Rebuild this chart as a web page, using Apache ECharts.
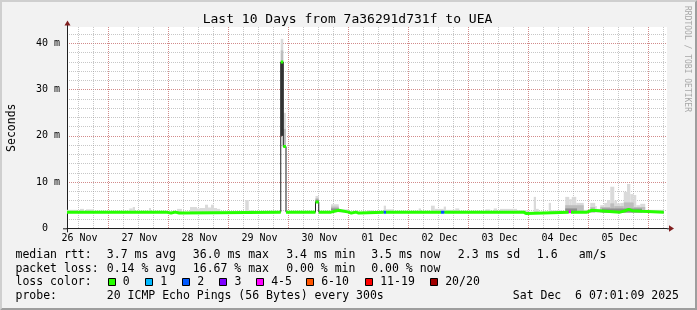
<!DOCTYPE html>
<html><head><meta charset="utf-8">
<script src="https://cdn.jsdelivr.net/npm/echarts@6/dist/echarts.min.js"></script>
<style>html,body{margin:0;padding:0;background:#f2f2f2}#c{width:697px;height:310px}</style>
</head><body><div id="c"></div>
<script>
// ---------- DATA (time in hours since start of the 10-day window) ----------
const dayLabels = ['26 Nov','27 Nov','28 Nov','29 Nov','30 Nov','01 Dec','02 Dec','03 Dec','04 Dec','05 Dec'];
const yTickUnit = ' m';

// median RTT (ms): segment boundaries, value per segment, lost pings per segment
const medT = [0, 39.6, 41.6, 43.3, 44.9, 85.5, 86.5, 87.6, 99.4, 100.7, 105.6, 108.7, 112.7, 113.7, 115.6, 116.7,
              126.7, 127.6, 149.6, 150.9, 182.7, 183.6, 200.7, 201.6, 208, 210, 221.2, 223.3, 224.7, 226, 230, 238.7];
const medV = [3.5, 3.3, 3.5, 3.3, 3.5, 36.0, 17.7, 3.5, 5.7, 3.5, 3.9, 3.5, 3.3, 3.5, 3.3, 3.5,
              3.5, 3.5, 3.5, 3.5, 3.2, 3.5, 3.6, 3.5, 3.9, 3.5, 3.8, 4.1, 3.8, 3.7, 3.5];
const medLoss = [0,0,0,0,0,0,0,0,0,0,0,0,0,0,0,0, 2,0,2,0,0,0,4,0,0,0,0,0,0,0,0];

// smoke (ping spread): [start, end, low, high]
const smokeLight = [
 [0,4,3.4,4.0],[5.2,6.8,3.4,4.2],[7.6,10.8,3.4,4.1],[24.9,26.3,3.4,4.3],[26.3,27.2,3.4,4.6],
 [32.8,33.6,3.4,4.4],[44,46,3.4,4.2],[49.2,52,3.4,4.6],[52,53.2,3.4,4.3],[53.2,55.2,3.4,4.4],
 [55.2,56.4,3.4,5.1],[56.4,57.6,3.4,4.5],[57.6,58.8,3.4,5.1],[58.8,60,3.4,4.4],[60,61.3,3.4,4.2],
 [71.3,72.7,3.4,6.1],[72.7,74.7,3.4,3.9],[81.2,83.2,3.4,3.8],
 [85.5,86.5,36,41],[86.5,87.6,17.7,25],[99.4,100.7,5.7,7.0],[105.6,108.7,3.9,5.2],[108.7,112.7,3.4,4.1],
 [120,122.7,3.4,3.9],[126.7,127.6,3.4,4.9],[127.6,130.7,3.4,4.1],[140.7,141.6,3.4,4.3],[145.6,147.1,3.4,4.9],
 [147.1,150.7,3.4,4.2],[150.7,151.6,3.4,4.7],[151.6,155.3,3.4,4.0],[155.3,156.9,3.4,4.3],[167.3,169.3,3.4,4.1],
 [170.7,172,3.4,4.3],[173.2,180,3.4,4.2],[180,184.6,3.4,3.9],[186.7,187.6,3.4,6.8],[187.6,188.7,3.4,4.2],
 [192.7,193.6,3.4,5.5],[193.6,198.1,3.4,3.9],[199.3,200.9,3.4,6.8],[200.9,201.9,3.4,6.3],[201.9,203.7,3.4,6.8],
 [203.7,206.7,3.4,5.5],[206.7,209.3,3.4,4.0],[209.3,211.3,3.4,5.5],[211.3,211.9,3.4,4.8],[211.9,213.3,3.4,4.2],
 [213.3,214.9,3.4,5.0],[214.9,216,3.4,5.5],[216,217.3,3.4,6.1],[217.3,218.9,3.4,9.0],[218.9,220,3.4,6.0],
 [220,221.3,3.4,5.4],[221.3,222.7,3.4,5.5],[222.7,224,3.4,7.9],[224,225.3,3.4,9.6],[225.3,226.7,3.4,7.4],
 [226.7,227.7,3.4,7.2],[227.7,229.3,3.4,5.0],[229.3,231.3,3.4,5.3],[231.3,238.7,3.4,4.0]
];
const smokeMid = [
 [85.5,86.5,36,38.5],[86.5,87.6,17.7,21.5],[99.4,100.7,5.7,6.5],[105.6,108.7,3.9,4.7],
 [199.3,206.7,3.4,5.0],[209.3,211.3,3.4,4.6],[213.3,217.3,3.4,4.6],[217.3,218.9,3.4,5.4],
 [218.9,222.7,3.4,4.8],[222.7,226.7,3.4,5.6],[226.7,231.3,3.4,4.6]
];
const smokeDark = [
 [99.4,100.7,5.7,6.2],[105.6,108.7,3.9,4.3],[199.3,204,3.4,4.3],[214,230,3.4,4.3]
];
const smokeDeep = [ [85.5,86.5,20,36] ];

// loss colour classes
const lossLabels = ['0','1','2','3','4-5','6-10','11-19','20/20'];
const lossMax    = [0, 1, 2, 3, 5, 10, 19, 20];
const lossColors = ['#26ff00','#00b8ff','#0059ff','#7e00ff','#ff00ff','#ff5500','#ff0000','#a10000'];

// legend text
const legendRtt  = [['median rtt:'],['3.7 ms avg'],['36.0 ms max'],['3.4 ms min'],['3.5 ms now'],['2.3 ms sd'],['1.6'],['am/s']];
const legendLoss = [['packet loss:'],['0.14 % avg'],['16.67 % max'],['0.00 % min'],['0.00 % now']];
const legendProbe = [['probe:'],['20 ICMP Echo Pings (56 Bytes) every 300s'],['Sat Dec  6 07:01:09 2025']];
const titleText = 'Last 10 Days from 7a36291d731f to UEA';
const unitText = 'Seconds';
const watermark = 'RRDTOOL / TOBI OETIKER';

// ---------- LAYOUT ----------
const W = 697, H = 310;
const L = 67, R = 30, T = 27, B = 81.7;
const YMAX = 43.57;
const PXH = 600 / 240;
const MONO = 'DejaVu Sans Mono';
const rttX = [15.5, 106.8, 192.8, 286.2, 371.2, 457.8, 536.8, 578.8];
const lossX = [15.5, 106.8, 192.8, 286.2, 371.2];
const probeX = [15.5, 106.8, 512.8];
const boxX = [108.5, 145.5, 182.5, 219.5, 256.5, 306.5, 365.5, 430.5];
const boxTextX = [122.8, 160.2, 197.2, 234.5, 271.2, 321.2, 380.2, 445.2];
const lineY = [255.3, 268.8, 282.4, 296];

// ---------- BUILD ----------
function lossClass(n){ for (let k=0;k<lossMax.length;k++) if (n<=lossMax[k]) return k; return lossMax.length-1; }
const JUMP = 1.5;
function buildLine(pred, breakOnJump){
  const out = [];
  for (let i=0;i<medV.length;i++){
    if (!pred(i)) continue;
    const cont = i>0 && pred(i-1) && (!breakOnJump || Math.abs(medV[i]-medV[i-1]) < JUMP);
    if (!cont && out.length) out.push([medT[i], null]);
    out.push([medT[i], medV[i]], [medT[i+1], medV[i]]);
  }
  return out;
}
function smokeSeries(data, color){
  return {
    type:'custom', xAxisIndex:0, yAxisIndex:0, data, silent:true, animation:false, z:2,
    encode:{x:[0,1], y:[2,3]},
    renderItem(params, api){
      const a = api.coord([api.value(0), api.value(3)]);
      const b = api.coord([api.value(1), api.value(2)]);
      return {type:'rect', shape:{x:a[0], y:a[1], width:b[0]-a[0], height:b[1]-a[1]}, style:{fill:color}};
    }
  };
}
const series = [
  smokeSeries(smokeLight, '#dadada'),
  smokeSeries(smokeMid, '#bdbdbd'),
  smokeSeries(smokeDark, '#8e8e8e'),
  smokeSeries(smokeDeep, '#383838'),
  {type:'line', xAxisIndex:0, yAxisIndex:0, data: buildLine(()=>true, false), showSymbol:false, symbol:'none',
   lineStyle:{color:'#202020', width:1}, animation:false, z:3, silent:true}
];
lossColors.forEach((col,k)=>{
  const d = buildLine(i => lossClass(medLoss[i])===k, true);
  if (d.length) series.push({type:'line', xAxisIndex:0, yAxisIndex:0, data:d, showSymbol:false, symbol:'none',
    lineStyle:{color:col, width:3, cap:'butt'}, animation:false, z:4, silent:true});
});

const minorStyle = {color:'rgba(143,143,143,0.5)', width:1, type:[1,1]};
const majorStyle = {color:'rgba(222,79,79,0.5)', width:1, type:[1,1]};
const grids = [
  {left:L, right:R, top:T, bottom:B, show:true, backgroundColor:'#ffffff', borderWidth:0, z:0, outerBoundsMode:'none'},
  {left:L-1.5*PXH, right:R, top:T, bottom:B, show:false, outerBoundsMode:'none'},
  {left:L-7.5*PXH, right:R, top:T, bottom:B, show:false, outerBoundsMode:'none'},
  {left:L-19*PXH, right:R, top:T, bottom:B, show:false, outerBoundsMode:'none'}
];
const noLine = {show:false}, noTick = {show:false};
const xAxes = [
  {type:'value', gridIndex:0, min:0, max:240, z:1, axisLine:{show:true, onZero:false, lineStyle:{color:'#202020', width:1}},
   axisTick:noTick, axisLabel:{show:false}, splitLine:{show:false}},
  {type:'value', gridIndex:1, min:-1.5, max:240, interval:6, z:1, axisLine:noLine, axisTick:noTick, axisLabel:{show:false},
   splitLine:{show:true, showMinLine:false, showMaxLine:false, lineStyle:minorStyle}},
  {type:'value', gridIndex:2, min:-7.5, max:240, interval:24, z:1, axisLine:noLine, axisTick:noTick, axisLabel:{show:false},
   splitLine:{show:true, showMinLine:false, showMaxLine:false, lineStyle:majorStyle}},
  {type:'value', gridIndex:3, min:-19, max:240, interval:24, z:1, axisLine:noLine, axisTick:noTick, splitLine:{show:false},
   axisLabel:{show:true, showMinLabel:false, showMaxLabel:false, margin:5, color:'#000', fontFamily:MONO, fontSize:10,
     hideOverlap:false,
     formatter:v=>{ const i=Math.round((v-5)/24); return dayLabels[i]||''; }}}
];
const yAxes = [
  {type:'value', gridIndex:0, min:0, max:YMAX, interval:2, position:'left', z:1,
   axisLine:{show:true, onZero:false, lineStyle:{color:'#202020', width:1}}, axisTick:noTick, axisLabel:{show:false},
   splitLine:{show:true, showMinLine:false, showMaxLine:false, lineStyle:minorStyle}},
  {type:'value', gridIndex:0, min:0, max:YMAX, interval:10, position:'left', z:1, axisLine:noLine, axisTick:noTick,
   axisLabel:{show:true, showMinLabel:true, showMaxLabel:false, margin:7, color:'#000', fontFamily:MONO, fontSize:10,
     formatter:v=> v===0 ? '0  ' : (v + yTickUnit)},
   splitLine:{show:true, showMinLine:false, showMaxLine:false, lineStyle:majorStyle}},
  {type:'value', gridIndex:1, show:false, min:0, max:1},
  {type:'value', gridIndex:2, show:false, min:0, max:1},
  {type:'value', gridIndex:3, show:false, min:0, max:1}
];

// graphic: borders, arrows, titles, legend
const g = [];
g.push({type:'polygon', shape:{points:[[0,H],[2,H-2],[2,2],[W-2,2],[W,0],[0,0]]}, style:{fill:'#cfcfcf'}, z:20, silent:true});
g.push({type:'polygon', shape:{points:[[2,H-2],[W-2,H-2],[W-2,2],[W,0],[W,H],[0,H]]}, style:{fill:'#9e9e9e'}, z:20, silent:true});
const xo = L, yo = H-B, xe = W-R, yt = T;
g.push({type:'line', shape:{x1:xo-4, y1:yo+0.5, x2:xo, y2:yo+0.5}, style:{stroke:'#202020', lineWidth:1}, z:20, silent:true});
g.push({type:'line', shape:{x1:xe, y1:yo+0.5, x2:xe+4, y2:yo+0.5}, style:{stroke:'#202020', lineWidth:1}, z:20, silent:true});
g.push({type:'line', shape:{x1:xo+0.5, y1:yo, x2:xo+0.5, y2:yo+4}, style:{stroke:'#202020', lineWidth:1}, z:20, silent:true});
g.push({type:'line', shape:{x1:xo+0.5, y1:yt-4, x2:xo+0.5, y2:yt}, style:{stroke:'#202020', lineWidth:1}, z:20, silent:true});
g.push({type:'polygon', shape:{points:[[xe+2,yo-3],[xe+2,yo+3.5],[xe+7,yo+0.3]]}, style:{fill:'#801f1f'}, z:21, silent:true});
g.push({type:'polygon', shape:{points:[[xo-2.5,yt-1.5],[xo+3.5,yt-1.5],[xo+0.5,yt-6.5]]}, style:{fill:'#801f1f'}, z:21, silent:true});

const txt = (s, x, y, size, extra) => Object.assign({type:'text', x, y, silent:true, z:22,
  style:{text:s, fill:'#000', font:size+'px "'+MONO+'"', textAlign:'left', textVerticalAlign:'middle'}}, extra||{});
g.push(txt(titleText, 347.5, 20.1, 13, {style:{text:titleText, fill:'#000', font:'13px "'+MONO+'"', textAlign:'center', textVerticalAlign:'middle'}}));
g.push({type:'text', x:11.6, y:127.7, rotation:Math.PI/2, silent:true, z:22,
  style:{text:unitText, fill:'#000', font:'11.5px "'+MONO+'"', textAlign:'center', textVerticalAlign:'middle'}});
g.push({type:'text', x:687.4, y:59, rotation:-Math.PI/2, silent:true, z:22,
  style:{text:watermark, fill:'#a8a8a8', font:'8px "'+MONO+'"', textAlign:'center', textVerticalAlign:'middle'}});
legendRtt.forEach((p,i)=>g.push(txt(p[0], rttX[i], lineY[0], 11.5)));
legendLoss.forEach((p,i)=>g.push(txt(p[0], lossX[i], lineY[1], 11.5)));
g.push(txt('loss color:', 15.5, lineY[2], 11.5));
lossLabels.forEach((lab,i)=>{
  g.push({type:'rect', shape:{x:boxX[i], y:278.5, width:7, height:7}, style:{fill:lossColors[i], stroke:'#000', lineWidth:1}, z:22, silent:true});
  g.push(txt(lab, boxTextX[i], lineY[2], 11.5));
});
legendProbe.forEach((p,i)=>g.push(txt(p[0], probeX[i], lineY[3], 11.5)));

const chart = echarts.init(document.getElementById('c'), null, {renderer:'canvas', width:W, height:H});
chart.setOption({
  backgroundColor:'#f2f2f2', animation:false, tooltip:{show:false}, legend:{show:false},
  grid:grids, xAxis:xAxes, yAxis:yAxes, series, graphic:g
});
</script></body></html>
